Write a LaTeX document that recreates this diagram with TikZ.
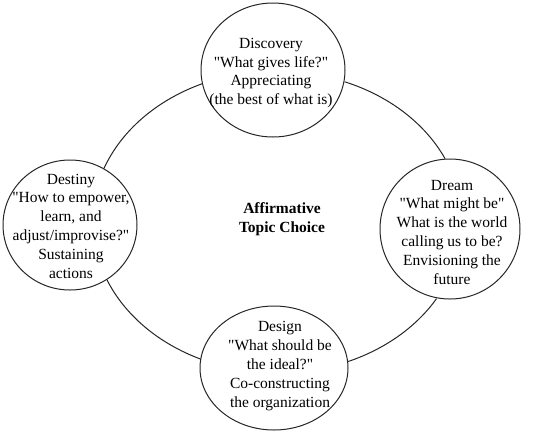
\documentclass[tikz,border=0pt]{standalone}
\usepackage{fontspec}
\setmainfont{Liberation Serif}[Ligatures=TeXOff]
\usetikzlibrary{shapes.geometric}
% straight double quote
\newcommand\dq{\char"22\relax}
\begin{document}
\begin{tikzpicture}[x=1pt,y=-1pt,
  stage/.style={draw=black!85, line width=1pt, ellipse, fill=white, inner sep=0pt},
  stagetext/.style={align=center, font=\fontsize{15.5}{18.8}\selectfont, inner sep=0pt},
  cycle/.style={draw=black!85, line width=1pt},
  bigarc/.style={x radius=184pt, y radius=150pt}]
\useasboundingbox (0,0) rectangle (533,432);

% the four phases, placed round the cycle
\node[stage, minimum width=144pt, minimum height=134pt] (disc) at (273,70) {};
\node[stage, minimum width=140pt, minimum height=140pt] (dream) at (450,229) {};
\node[stage, minimum width=148pt, minimum height=124pt] (design) at (274,368) {};
\node[stage, minimum width=134pt, minimum height=130pt] (dest) at (70,225) {};

% the cycle: arcs of one large ellipse, from phase to phase
\draw[cycle] (disc.191.9) arc[bigarc, start angle=113.8, end angle=159.5];
\draw[cycle] (dest.304.2) arc[bigarc, start angle=202.4, end angle=245.6];
\draw[cycle] (design.5.8) arc[bigarc, start angle=292.5, end angle=329.7];
\draw[cycle] (dream.94.9) arc[bigarc, start angle=24.8, end angle=68.8];

% phase texts
\node[stagetext] (disc-t) at (271,73) {Discovery\\\dq What gives life?\dq\\Appreciating\\(the best of what is)};
\node[stagetext] (dream-t) at (452,232) {Dream\\\dq What might be\dq\\What is the world\\calling us to be?\\Envisioning the\\future};
\node[stagetext] (design-t) at (280,366) {Design\\\dq What should be\\the ideal?\dq\\Co-constructing\\the organization};
\node[stagetext] (dest-t) at (71,226) {Destiny\\\dq How to empower,\\learn, and\\adjust/improvise?\dq\\Sustaining\\actions};

% core
\node[stagetext, font=\fontsize{15.5}{18.8}\selectfont\bfseries] (core) at (282,219) {Affirmative\\Topic Choice};
\end{tikzpicture}
\end{document}
